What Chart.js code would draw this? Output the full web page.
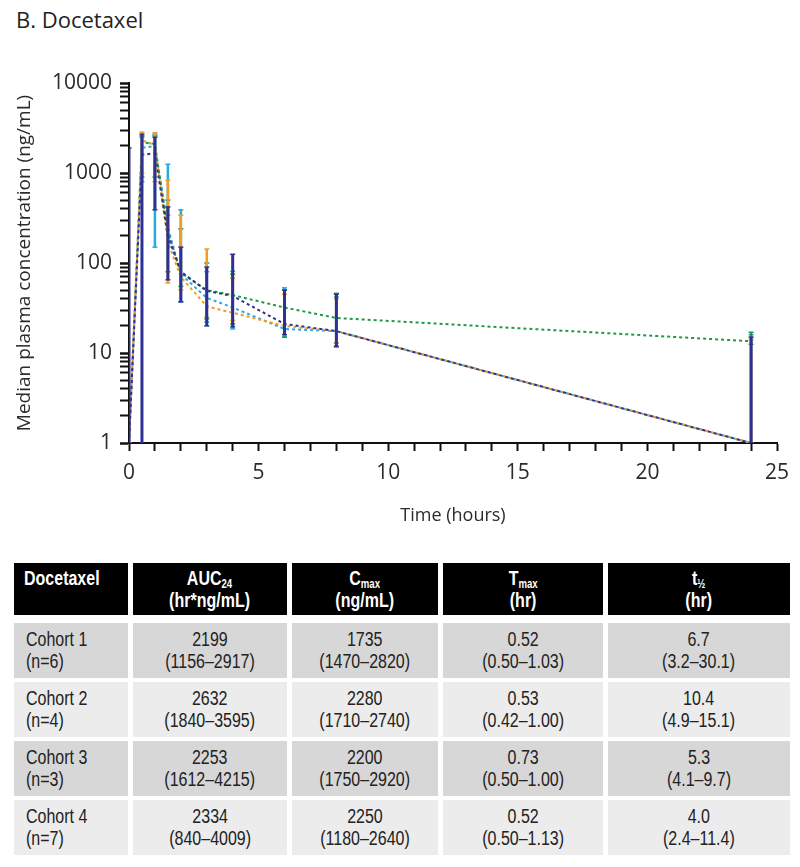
<!DOCTYPE html>
<html>
<head>
<meta charset="utf-8">
<script src="https://cdn.jsdelivr.net/npm/chart.js@4.4.1/dist/chart.umd.min.js"></script>
<style>
    body {
        margin: 0;
        background: #fff;
        width: 800px;
        height: 867px;
        position: relative;
        overflow: hidden;
    }
    .fig-title {
        position: absolute;
        left: 16px;
        top: 4px;
        font: 22px "Open Sans", sans-serif;
        color: #222;
    }
    #chart {
        position: absolute;
        left: 0;
        top: 0;
    }
    .pk-table {
        position: absolute;
        left: 14px;
        top: 563px;
        display: grid;
        grid-template-columns: 114px 154px 146px 160px 182px;
        column-gap: 5px;
        row-gap: 4px;
        font-family: "Liberation Sans", Arial, sans-serif;
        font-size: 20px;
        line-height: 22px;
        color: #222;
    }
    .pk-table > div {
        text-align: center;
        box-sizing: border-box;
        white-space: nowrap;
    }
    .pk-table .t {
        display: inline-block;
        transform: scaleX(0.8);
        transform-origin: center top;
    }
    .pk-table .first .t {
        transform-origin: left top;
    }
    .pk-table .hd {
        background: #000;
        color: #fff;
        font-weight: bold;
        height: 52px;
        padding-top: 4px;
        margin-bottom: 4px;
    }
    .pk-table .hd.first {
        text-align: left;
        padding-left: 10px;
    }
    .pk-table .cell {
        height: 55px;
        padding-top: 5px;
    }
    .pk-table .first {
        text-align: left;
        padding-left: 12px;
    }
    .pk-table .dark { background: #d7d7d7; }
    .pk-table .light { background: #ececec; }
    .pk-table sub {
        font-size: 12px;
        vertical-align: -3px;
        line-height: 0;
    }
</style>
</head>
<body>
<div class="fig-title">B. Docetaxel</div>
<canvas id="chart" width="800" height="545"></canvas>
<div class="pk-table" id="pkTable"></div>

<script>
// sampling times (hours)
var timeHours = [0, 0.5, 1, 1.5, 2, 3, 4, 6, 8, 24];

// medians and ranges, ng/mL
var cohort1Median = [1, 1600, 1650, 200, 80, 49, 43, 21, 17.5, 1];
var cohort1Low = [1, 1, 390, 65, 37, 20, 19.5, 16, 11.7, 1];
var cohort1High = [1900, 2700, 2500, 420, 150, 90, 125, 50, 45, 15];

var cohort2Median = [1, 2300, 2050, 170, 70, 33, 28, 20, 17.5, 1];
var cohort2Low = [1, 1000, 800, 60, 50, 25, 23, 16, 13, 1];
var cohort2High = [1, 2850, 2800, 830, 340, 143, 68, 45, 40, 14];

var cohort3Median = [1, 2200, 2100, 220, 78, 50, 44, 32, 24.5, 13.5];
var cohort3Low = [1, 900, 900, 80, 55, 24, 21, 15, 13, 12.5];
var cohort3High = [1, 2500, 2600, 500, 240, 100, 75, 50, 46, 17];

var cohort4Median = [1, 1900, 2000, 250, 75, 41, 32, 18.5, 17.5, 1];
var cohort4Low = [1, 800, 150, 340, 37, 22, 18.5, 15, 12, 1];
var cohort4High = [1, 2600, 2700, 1250, 390, 80, 81, 53, 42, 16];

var yTickValues = [1, 10, 100, 1000, 10000];

// table
var tableHeader = ["Docetaxel", "AUC<sub>24</sub><br>(hr*ng/mL)", "C<sub>max</sub><br>(ng/mL)", "T<sub>max</sub><br>(hr)", "t<sub>½</sub><br>(hr)"];
var cohortNames = ["Cohort 1", "Cohort 2", "Cohort 3", "Cohort 4"];
var cohortN = ["(n=6)", "(n=4)", "(n=3)", "(n=7)"];
var aucValues = ["2199", "2632", "2253", "2334"];
var aucRanges = ["(1156–2917)", "(1840–3595)", "(1612–4215)", "(840–4009)"];
var cmaxValues = ["1735", "2280", "2200", "2250"];
var cmaxRanges = ["(1470–2820)", "(1710–2740)", "(1750–2920)", "(1180–2640)"];
var tmaxValues = ["0.52", "0.53", "0.73", "0.52"];
var tmaxRanges = ["(0.50–1.03)", "(0.42–1.00)", "(0.50–1.00)", "(0.50–1.13)"];
var halfLifeValues = ["6.7", "10.4", "5.3", "4.0"];
var halfLifeRanges = ["(3.2–30.1)", "(4.9–15.1)", "(4.1–9.7)", "(2.4–11.4)"];

var COHORTS = [
    { median: cohort1Median, low: cohort1Low, high: cohort1High, color: "#2e3092", bar: 3, dashOffset: 0 },
    { median: cohort2Median, low: cohort2Low, high: cohort2High, color: "#f39c25", bar: 2.5, dashOffset: 2 },
    { median: cohort3Median, low: cohort3Low, high: cohort3High, color: "#1f9a48", bar: 2.5, dashOffset: 1 },
    { median: cohort4Median, low: cohort4Low, high: cohort4High, color: "#27a9e1", bar: 2.5, dashOffset: 4 }
];

var TEXT_COLOR = "#2b2b2b";
var AXIS_COLOR = "#111";

function medianPoints(c) {
    return timeHours.map(function(t, i) {
        return { x: t, y: c.median[i] };
    });
}

// vertical range bars: low -> high, then a gap
function rangePoints(c) {
    var pts = [];
    timeHours.forEach(function(t, i) {
        pts.push({ x: t, y: c.low[i] });
        pts.push({ x: t, y: c.high[i] });
        pts.push({ x: t, y: null });
    });
    return pts;
}

var datasets = [];

// range bars first so they sit on top
COHORTS.forEach(function(c) {
    datasets.push({
        data: rangePoints(c),
        borderColor: c.color,
        borderWidth: c.bar,
        spanGaps: false,
        pointStyle: "line",
        pointRadius: 2.5,
        pointBorderWidth: 1.5,
        pointBorderColor: c.color,
        pointHoverRadius: 0
    });
});

COHORTS.forEach(function(c) {
    datasets.push({
        data: medianPoints(c),
        borderColor: c.color,
        borderWidth: 2,
        borderDash: [3, 3],
        borderDashOffset: c.dashOffset,
        pointRadius: 0,
        tension: 0
    });
});

var ctx = document.getElementById("chart").getContext("2d");

var chart = new Chart(ctx, {
    type: "line",
    data: { datasets: datasets },
    options: {
        responsive: false,
        animation: false,
        layout: {
            padding: { top: 83, right: 23, bottom: 0, left: 0 }
        },
        plugins: {
            legend: { display: false },
            tooltip: { enabled: false },
            title: { display: false }
        },
        scales: {
            x: {
                type: "linear",
                min: 0,
                max: 25,
                ticks: {
                    stepSize: 1,
                    autoSkip: false,
                    maxRotation: 0,
                    padding: 9,
                    color: TEXT_COLOR,
                    font: { family: "Open Sans", size: 21 },
                    callback: function(v) {
                        return v % 5 === 0 ? String(v) : "";
                    }
                },
                grid: {
                    drawOnChartArea: false,
                    tickLength: 8,
                    tickColor: AXIS_COLOR,
                    tickWidth: 2
                },
                border: { color: AXIS_COLOR, width: 2 },
                title: {
                    display: true,
                    text: "Time (hours)",
                    color: TEXT_COLOR,
                    font: { family: "Open Sans", size: 18 },
                    padding: { top: 0, bottom: 18 }
                },
                afterFit: function(scale) {
                    scale.height = 102;
                }
            },
            y: {
                type: "logarithmic",
                min: 1,
                max: 10000,
                afterBuildTicks: function(scale) {
                    var ticks = [];
                    for (var d = 0; d < yTickValues.length - 1; d++) {
                        for (var k = 1; k < 10; k++) {
                            ticks.push({ value: yTickValues[d] * k, major: k === 1 });
                        }
                    }
                    ticks.push({ value: yTickValues[yTickValues.length - 1], major: true });
                    scale.ticks = ticks;
                },
                ticks: {
                    autoSkip: false,
                    padding: 8,
                    color: TEXT_COLOR,
                    font: { family: "Open Sans", size: 21 },
                    callback: function(v) {
                        return yTickValues.indexOf(v) >= 0 ? String(v) : "";
                    }
                },
                grid: {
                    drawOnChartArea: false,
                    tickLength: 9,
                    tickColor: AXIS_COLOR,
                    tickWidth: function(c) {
                        return c.tick && c.tick.major ? 2.5 : 2;
                    }
                },
                border: { color: AXIS_COLOR, width: 2 },
                title: {
                    display: true,
                    text: "Median plasma concentration (ng/mL)",
                    color: TEXT_COLOR,
                    font: { family: "Open Sans", size: 19 },
                    padding: { top: 13, bottom: 0 }
                },
                afterFit: function(scale) {
                    scale.width = 129;
                }
            }
        }
    }
});

// pk summary table
(function buildTable() {
    var html = "";
    tableHeader.forEach(function(h, i) {
        html += '<div class="hd' + (i === 0 ? " first" : "") + '"><span class="t">' + h + "</span></div>";
    });
    cohortNames.forEach(function(name, r) {
        var shade = r % 2 === 0 ? "dark" : "light";
        var cells = [
            name + "<br>" + cohortN[r],
            aucValues[r] + "<br>" + aucRanges[r],
            cmaxValues[r] + "<br>" + cmaxRanges[r],
            tmaxValues[r] + "<br>" + tmaxRanges[r],
            halfLifeValues[r] + "<br>" + halfLifeRanges[r]
        ];
        cells.forEach(function(c, i) {
            html += '<div class="cell ' + shade + (i === 0 ? " first" : "") + '"><span class="t">' + c + "</span></div>";
        });
    });
    document.getElementById("pkTable").innerHTML = html;
})();
</script>
</body>
</html>
